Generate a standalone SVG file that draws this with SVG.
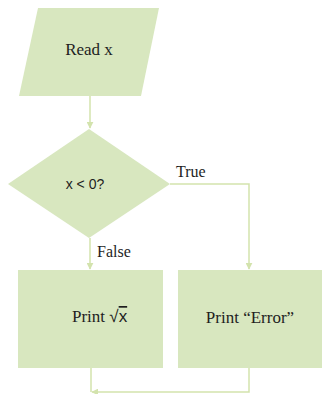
<svg xmlns="http://www.w3.org/2000/svg" width="322" height="394" viewBox="0 0 322 394">
<style>
.shape{fill:#d8e7bf;}
.conn{fill:none;stroke:#d3e3ad;stroke-width:1.5;}
.serif{font-family:"Liberation Serif","Times New Roman",serif;fill:#1e1e1e;}
.sans{font-family:"Liberation Sans",Arial,sans-serif;fill:#1e1e1e;}
</style>
<defs>
<marker id="arr" viewBox="0 0 10 10" refX="9" refY="5" markerWidth="7" markerHeight="7" orient="auto-start-reverse" markerUnits="userSpaceOnUse">
<path d="M0,0 L10,5 L0,10 z" fill="#d3e3ad"/>
</marker>
</defs>
<rect width="322" height="394" fill="#ffffff"/>
<g id="connectors">
<path class="conn" d="M90,96 V128" marker-end="url(#arr)"/>
<path class="conn" d="M170,184 H249 V269" marker-end="url(#arr)"/>
<path class="conn" d="M90,238 V269" marker-end="url(#arr)"/>
<path class="conn" d="M91,368 V392"/>
<path class="conn" d="M249,368 V392 H92" marker-end="url(#arr)"/>
</g>
<g id="read">
<polygon class="shape" points="38,8 159,8 141,96 19,96"/>
<text class="serif" x="89" y="55" font-size="17" text-anchor="middle">Read x</text>
</g>
<g id="decision">
<polygon class="shape" points="89,129 170,184 89,238 8,184"/>
<text class="sans" x="85" y="189" font-size="14" text-anchor="middle">x &lt; 0?</text>
</g>
<g id="labels">
<text class="serif" x="176" y="177" font-size="16">True</text>
<text class="serif" x="97" y="257" font-size="16">False</text>
</g>
<g id="printsqrt">
<rect class="shape" x="18" y="270" width="145" height="98"/>
<text class="serif" x="72" y="322" font-size="17">Print <tspan class="sans">√</tspan><tspan class="sans" style="text-decoration:overline">x</tspan></text>
</g>
<g id="printerror">
<rect class="shape" x="178" y="270" width="144" height="98"/>
<text class="serif" x="250" y="323" font-size="17" text-anchor="middle">Print “Error”</text>
</g>
</svg>
